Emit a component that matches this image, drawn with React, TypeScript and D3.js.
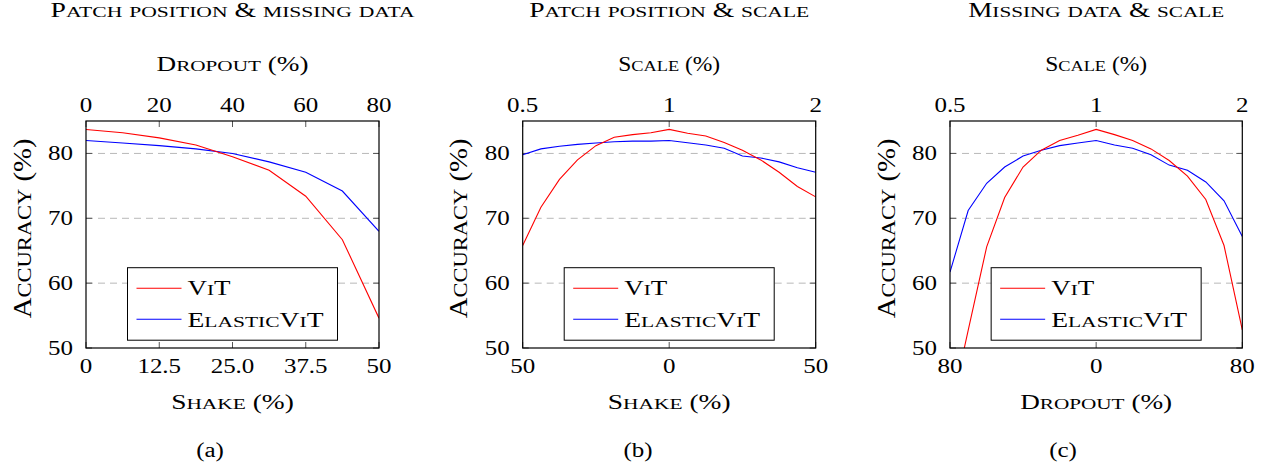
import React from "react";
import * as d3 from "d3";

// ---------- data ----------
const dropoutLevels = [0, 10, 20, 30, 40, 50, 60, 70, 80];
const vitA = [83.7, 83.2, 82.4, 81.3, 79.5, 77.4, 73.4, 66.7, 54.6];
const elasticA = [82.0, 81.6, 81.2, 80.7, 80.0, 78.7, 77.1, 74.2, 68.0];

const scaleLevels = [0.5, 0.545, 0.595, 0.648, 0.707, 0.771, 0.841, 0.917, 1, 1.091, 1.189, 1.297, 1.414, 1.542, 1.682, 1.834, 2];
const vitB = [65.8, 71.7, 76.0, 79.0, 81.2, 82.5, 82.9, 83.2, 83.7, 83.1, 82.7, 81.7, 80.5, 79.0, 77.1, 74.9, 73.3];
const elasticB = [79.8, 80.7, 81.1, 81.4, 81.6, 81.8, 81.9, 81.9, 82.0, 81.65, 81.3, 80.8, 79.6, 79.3, 78.7, 77.8, 77.1];
const vitC = [40.0, 52.7, 65.6, 73.2, 77.9, 80.5, 82.0, 82.8, 83.7, 82.9, 82.0, 80.7, 78.9, 76.5, 72.9, 65.8, 52.8];
const elasticC = [61.7, 71.2, 75.4, 77.9, 79.6, 80.5, 81.2, 81.6, 82.0, 81.3, 80.8, 79.8, 78.2, 77.4, 75.6, 72.7, 67.2];

const yTicks = [50, 60, 70, 80];
const gridTicks = [60, 70, 80];
const dropoutTicks = [0, 20, 40, 60, 80];
const shakeTicksA = [0, 12.5, 25, 37.5, 50];
const scaleTicks = [0.5, 1, 2];
const shakeTicksB = [-50, 0, 50];
const dropoutTicksC = [-80, 0, 80];

const titles = ["Patch position & missing data", "Patch position & scale", "Missing data & scale"];
const topLabels = ["Dropout (%)", "Scale (%)", "Scale (%)"];
const bottomLabels = ["Shake (%)", "Shake (%)", "Dropout (%)"];
const captions = ["(a)", "(b)", "(c)"];
const seriesNames = ["ViT", "ElasticViT"];
const seriesColors = ["#ff0000", "#0000ff"];

// ---------- layout ----------
const W = 1261, H = 465;
const TOP = 121, BOTTOM = 348;
const FONT = "'Liberation Serif', 'Times New Roman', serif";
const FS = 20;
const SX = 1.25; // horizontal stretch of the reference typesetting
const SC_RATIO = 0.78;

// measured text widths (px) in the reference
const titleWidths = [364, 280, 256];
const topLabelWidths = [152, 102, 102];
const bottomLabelWidths = [122.7, 122.7, 152];
const yLabelLength = 180;
const legendWidths = [43, 136];

function smallCaps(str: string, fs: number) {
  const runs: { t: string; small: boolean }[] = [];
  for (const ch of str) {
    const small = ch >= "a" && ch <= "z";
    const last = runs[runs.length - 1];
    if (last && last.small === small) last.t += small ? ch.toUpperCase() : ch;
    else runs.push({ t: small ? ch.toUpperCase() : ch, small });
  }
  return runs.map((r, k) => (
    <tspan key={k} fontSize={r.small ? fs * SC_RATIO : fs}>{r.t}</tspan>
  ));
}

function SCText({ x, y, str, len, transform }: { x: number; y: number; str: string; len: number; transform?: string }) {
  return (
    <text x={x} y={y} transform={transform} textLength={len} lengthAdjust="spacingAndGlyphs"
      fontSize={FS} fontFamily={FONT} fill="#000">
      {smallCaps(str, FS)}
    </text>
  );
}

function Num({ x, y, s, anchor, dy }: { x: number; y: number; s: string; anchor: string; dy?: string }) {
  return (
    <text transform={`translate(${x},${y}) scale(${SX},1)`} textAnchor={anchor} dy={dy}
      fontSize={FS} fontFamily={FONT} fill="#000">{s}</text>
  );
}

type Panel = {
  x0: number; x1: number;
  xs: number[]; s1: number[]; s2: number[];
  top: any; topTicks: number[]; topFmt: (v: number) => string;
  bottom: any; bottomTicks: number[]; bottomFmt: (v: number) => string;
  captionX: number;
};

const yScale = d3.scaleLinear().domain([50, 85]).range([BOTTOM, TOP]);

function makePanels(): Panel[] {
  const pa = [86, 379], pb = [522.7, 815.7], pc = [950, 1242.3];
  const fmtA = (v: number) => (v === 0 || v === 50 ? String(v) : d3.format(".1f")(v));
  return [
    {
      x0: pa[0], x1: pa[1], xs: dropoutLevels, s1: vitA, s2: elasticA,
      top: d3.scaleLinear().domain([0, 80]).range(pa), topTicks: dropoutTicks, topFmt: (v) => String(v),
      bottom: d3.scaleLinear().domain([0, 50]).range(pa), bottomTicks: shakeTicksA, bottomFmt: fmtA,
      captionX: 210,
    },
    {
      x0: pb[0], x1: pb[1], xs: scaleLevels, s1: vitB, s2: elasticB,
      top: d3.scaleLog().base(2).domain([0.5, 2]).range(pb), topTicks: scaleTicks, topFmt: (v) => String(v),
      bottom: d3.scaleLinear().domain([-50, 50]).range(pb), bottomTicks: shakeTicksB, bottomFmt: (v) => String(Math.abs(v)),
      captionX: 638,
    },
    {
      x0: pc[0], x1: pc[1], xs: scaleLevels, s1: vitC, s2: elasticC,
      top: d3.scaleLog().base(2).domain([0.5, 2]).range(pc), topTicks: scaleTicks, topFmt: (v) => String(v),
      bottom: d3.scaleLinear().domain([-80, 80]).range(pc), bottomTicks: dropoutTicksC, bottomFmt: (v) => String(Math.abs(v)),
      captionX: 1063,
    },
  ];
}

function PanelView({ p, i }: { p: Panel; i: number }) {
  const cx = (p.x0 + p.x1) / 2;
  const line = d3.line<number>()
    .x((_, k) => p.top(p.xs[k]))
    .y((d) => yScale(d));
  const tickColor = "#555";
  const TL = 6;
  const legW = 210, legH = 72.5;
  const lx = cx - legW / 2, ly = 267.7;
  const yMid = 228.3;
  return (
    <g>
      <defs>
        <clipPath id={`clip${i}`}>
          <rect x={p.x0} y={TOP} width={p.x1 - p.x0} height={BOTTOM - TOP} />
        </clipPath>
      </defs>
      {gridTicks.map((t) => (
        <line key={"g" + t} x1={p.x0} x2={p.x1} y1={yScale(t)} y2={yScale(t)}
          stroke="#b8b8b8" strokeWidth={1} strokeDasharray="7 5" />
      ))}
      {yTicks.map((t) => (
        <g key={"y" + t}>
          <line x1={p.x0} x2={p.x0 + TL} y1={yScale(t)} y2={yScale(t)} stroke={tickColor} strokeWidth={1} />
          <line x1={p.x1} x2={p.x1 - TL} y1={yScale(t)} y2={yScale(t)} stroke={tickColor} strokeWidth={1} />
          <Num x={p.x0 - 13} y={yScale(t)} s={String(t)} anchor="end" dy="0.34em" />
        </g>
      ))}
      {p.topTicks.map((t) => (
        <g key={"t" + t}>
          <line x1={p.top(t)} x2={p.top(t)} y1={TOP} y2={TOP + TL} stroke={tickColor} strokeWidth={1} />
          <Num x={p.top(t)} y={111.5} s={p.topFmt(t)} anchor="middle" />
        </g>
      ))}
      {p.bottomTicks.map((t) => (
        <g key={"b" + t}>
          <line x1={p.bottom(t)} x2={p.bottom(t)} y1={BOTTOM} y2={BOTTOM - TL} stroke={tickColor} strokeWidth={1} />
          <Num x={p.bottom(t)} y={372.5} s={p.bottomFmt(t)} anchor="middle" />
        </g>
      ))}
      <g clipPath={`url(#clip${i})`}>
        <path d={line(p.s2) || ""} fill="none" stroke={seriesColors[1]} strokeWidth={1.1} />
        <path d={line(p.s1) || ""} fill="none" stroke={seriesColors[0]} strokeWidth={1.1} />
      </g>
      <rect x={p.x0} y={TOP} width={p.x1 - p.x0} height={BOTTOM - TOP} fill="none" stroke="#000" strokeWidth={1.2} />
      {/* legend */}
      <rect x={lx} y={ly} width={legW} height={legH} fill="#fff" stroke="#000" strokeWidth={1} />
      {seriesNames.map((n, k) => (
        <g key={n}>
          <line x1={lx + 9} x2={lx + 54} y1={ly + 20.6 + k * 31} y2={ly + 20.6 + k * 31} stroke={seriesColors[k]} strokeWidth={1.1} />
          <SCText x={lx + 60} y={ly + 27.5 + k * 31.5} str={n} len={legendWidths[k]} />
        </g>
      ))}
      {/* labels */}
      <SCText x={cx - titleWidths[i] / 2} y={17} str={titles[i]} len={titleWidths[i]} />
      <SCText x={cx - topLabelWidths[i] / 2} y={71} str={topLabels[i]} len={topLabelWidths[i]} />
      <SCText x={cx - bottomLabelWidths[i] / 2} y={409} str={bottomLabels[i]} len={bottomLabelWidths[i]} />
      <SCText x={-yLabelLength / 2} y={0} str="Accuracy (%)" len={yLabelLength}
        transform={`translate(${p.x0 - 55.5},${yMid}) scale(${SX},1) rotate(-90)`} />
      <Num x={p.captionX} y={457} s={captions[i]} anchor="middle" />
    </g>
  );
}

export default function App() {
  const panels = makePanels();
  return (
    <svg width={W} height={H} style={{ position: "absolute", left: 0, top: 0, background: "#fff" }}>
      <rect x={0} y={0} width={W} height={H} fill="#fff" />
      {panels.map((p, i) => <PanelView key={i} p={p} i={i} />)}
    </svg>
  );
}
